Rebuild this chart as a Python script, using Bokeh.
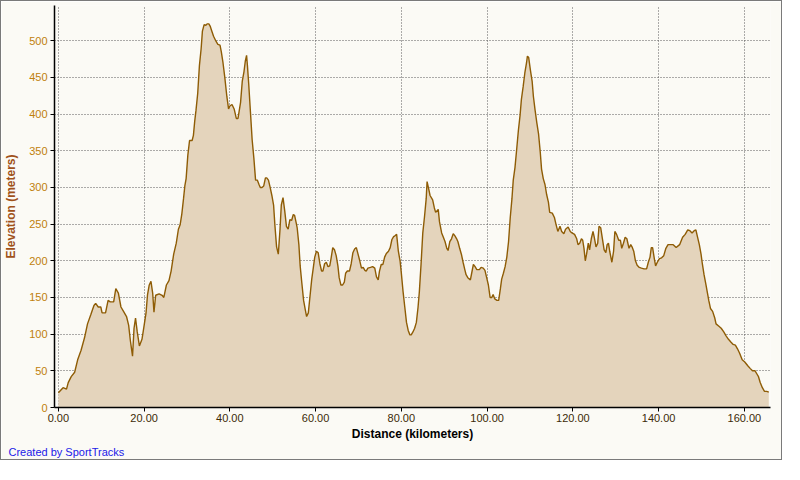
from bokeh.plotting import figure
from bokeh.models import Range1d, FixedTicker, NumeralTickFormatter, Title
from bokeh.embed import file_html
from bokeh.resources import INLINE

distance_km = [
    0.0, 1.1, 1.9, 2.3, 3.0, 3.8, 4.5, 5.3, 6.1, 6.8, 7.6, 8.3, 8.7, 9.3, 9.9, 10.2, 11.0, 11.6, 12.1, 12.9,
    13.4, 14.0, 14.6, 15.2, 15.9, 16.4, 16.8, 17.3, 17.65, 18.0, 18.4, 18.9, 19.5, 19.9, 20.45, 20.8, 21.2, 21.6, 22.0, 22.3,
    22.7, 23.5, 24.2, 24.6, 25.2, 25.8, 26.3, 26.9, 27.5, 28.0, 28.4, 28.8, 29.2, 29.5, 29.8, 30.2, 30.6, 31.2, 31.5, 31.8,
    32.1, 32.5, 32.9, 33.3, 33.6, 34.0, 34.4, 34.7, 35.1, 35.4, 35.8, 36.2, 36.7, 37.2, 37.7, 38.0, 38.4, 38.8, 39.3, 39.7,
    40.0, 40.5, 41.0, 41.5, 41.9, 42.5, 42.9, 43.3, 43.6, 43.9, 44.1, 44.4, 44.8, 45.2, 45.6, 46.0, 46.4, 46.8, 47.1, 47.5,
    47.9, 48.3, 48.6, 49.0, 49.4, 49.8, 50.2, 50.5, 50.9, 51.3, 51.7, 52.0, 52.4, 52.8, 53.2, 53.6, 54.0, 54.4, 54.8, 55.1,
    55.5, 55.7, 56.1, 56.4, 56.8, 57.2, 57.6, 57.9, 58.3, 58.7, 59.1, 59.5, 59.8, 60.2, 60.6, 61.0, 61.4, 61.7, 62.1, 62.5,
    62.9, 63.3, 63.6, 64.0, 64.4, 64.8, 65.2, 65.5, 65.9, 66.3, 66.7, 67.0, 67.4, 67.9, 68.3, 68.7, 69.1, 69.5, 69.9, 70.3,
    70.7, 71.1, 71.5, 71.8, 72.2, 72.8, 73.3, 73.8, 74.2, 74.6, 74.9, 75.3, 75.7, 76.1, 76.5, 77.0, 77.4, 77.8, 78.2, 78.5,
    78.9, 79.3, 79.7, 80.0, 80.4, 80.8, 81.2, 81.6, 82.0, 82.3, 82.7, 83.1, 83.5, 83.9, 84.2, 84.6, 85.0, 85.4, 85.8, 86.0,
    86.3, 86.7, 87.3, 87.7, 88.0, 88.6, 88.9, 89.4, 89.8, 90.2, 90.6, 90.9, 91.3, 91.7, 92.1, 92.5, 92.9, 93.2, 93.6, 94.0,
    94.4, 94.8, 95.1, 95.5, 96.1, 96.4, 96.8, 97.2, 97.6, 98.2, 98.6, 99.1, 99.5, 99.9, 100.3, 100.7, 101.1, 101.4, 101.8, 102.3,
    102.7, 103.1, 103.4, 103.8, 104.2, 104.6, 105.0, 105.4, 105.8, 106.1, 106.5, 106.9, 107.3, 107.7, 108.0, 108.4, 108.8, 109.2, 109.4, 109.7,
    110.1, 110.5, 110.8, 111.2, 111.6, 112.0, 112.4, 112.7, 113.1, 113.5, 113.9, 114.3, 114.6, 115.2, 115.7, 116.1, 116.5, 117.0, 117.4, 117.9,
    118.3, 118.9, 119.4, 119.8, 120.4, 120.9, 121.2, 121.6, 122.0, 122.3, 122.6, 122.9, 123.2, 123.6, 123.9, 124.3, 124.7, 125.0, 125.4, 125.8,
    126.1, 126.5, 126.9, 127.3, 127.7, 128.0, 128.3, 128.6, 129.1, 129.5, 129.8, 130.2, 130.7, 131.1, 131.4, 131.8, 132.2, 132.6, 133.1, 133.5,
    133.8, 134.2, 134.6, 135.0, 135.5, 136.0, 136.6, 137.2, 137.6, 138.0, 138.3, 138.6, 139.0, 139.3, 139.7, 140.2, 140.7, 141.2, 141.7, 142.2,
    142.7, 143.4, 144.1, 144.9, 145.6, 146.2, 146.8, 147.3, 147.8, 148.3, 148.7, 149.1, 149.5, 149.9, 150.2, 150.6, 151.0, 151.4, 151.7, 152.1,
    152.6, 153.1, 153.4, 154.0, 154.6, 155.2, 155.7, 156.3, 156.9, 157.4, 157.9, 158.4, 158.9, 159.5, 160.1, 160.8, 161.4, 161.9, 162.5, 162.9,
    163.3, 163.7, 164.2, 164.7, 165.2, 165.7,
]

elevation_m = [
    20, 27, 25, 34, 42, 48, 65, 78, 95, 114, 127, 139, 142, 137, 137, 129, 129, 146, 144, 144,
    162, 156, 137, 131, 124, 112, 91, 70, 108, 122, 103, 84, 93, 108, 129, 154, 167, 172, 156, 130,
    153, 155, 153, 150, 167, 173, 186, 209, 224, 243, 249, 264, 285, 302, 312, 344, 364, 364, 371, 390,
    405, 428, 466, 489, 513, 522, 521, 523, 523, 520, 513, 506, 500, 495, 494, 485, 470, 451, 424, 407,
    411, 413, 407, 394, 394, 416, 445, 458, 472, 480, 466, 441, 403, 365, 340, 310, 310, 304, 300, 300,
    302, 313, 313, 310, 300, 289, 276, 249, 219, 209, 243, 276, 286, 268, 247, 243, 256, 255, 263, 262,
    251, 245, 222, 193, 169, 146, 133, 124, 129, 152, 175, 192, 205, 213, 211, 196, 186, 186, 196, 198,
    192, 193, 203, 218, 215, 207, 193, 177, 167, 167, 171, 183, 186, 186, 196, 211, 216, 218, 209, 200,
    190, 191, 187, 186, 190, 191, 192, 190, 178, 174, 186, 195, 195, 205, 210, 213, 218, 229, 233, 234,
    236, 213, 200, 183, 158, 137, 116, 105, 99, 99, 103, 108, 116, 137, 158, 196, 238, 260, 285, 308,
    300, 289, 283, 272, 266, 270, 253, 238, 232, 226, 217, 214, 226, 230, 237, 234, 230, 226, 217, 209,
    198, 188, 181, 177, 174, 183, 195, 192, 188, 188, 191, 190, 187, 177, 167, 150, 150, 154, 148, 146,
    146, 162, 175, 183, 192, 205, 226, 259, 285, 310, 327, 352, 378, 399, 420, 437, 456, 470, 479, 477,
    460, 445, 424, 405, 388, 373, 348, 325, 312, 304, 290, 280, 266, 265, 259, 249, 240, 247, 240, 237,
    243, 246, 240, 238, 236, 230, 222, 224, 230, 228, 217, 200, 209, 224, 215, 230, 240, 232, 219, 224,
    247, 245, 230, 215, 211, 222, 224, 213, 198, 213, 240, 236, 228, 228, 217, 224, 232, 230, 217, 222,
    219, 213, 200, 194, 191, 190, 189, 189, 198, 205, 218, 218, 203, 193, 198, 203, 204, 207, 217, 222,
    222, 222, 218, 222, 232, 236, 242, 241, 238, 241, 242, 232, 222, 209, 196, 181, 169, 156, 146, 135,
    131, 122, 114, 111, 108, 103, 98, 93, 89, 86, 85, 80, 74, 65, 62, 57, 53, 50, 50, 46,
    42, 34, 27, 22, 22, 21,
]

x_ticks = [0, 20, 40, 60, 80, 100, 120, 140, 160]
y_ticks = [0, 50, 100, 150, 200, 250, 300, 350, 400, 450, 500]

BG = "#FBFAF5"
FONT = "Liberation Sans"

p = figure(
    width=782, height=460, output_backend="svg", toolbar_location=None,
    x_range=Range1d(-0.9, 166.1), y_range=Range1d(0, 548),
    min_border_left=48, min_border_right=13, min_border_top=4, min_border_bottom=54,
)
p.styles = {"border": "1px solid #7a7a7a"}
p.background_fill_color = BG
p.border_fill_color = BG
p.outline_line_color = None

p.varea(x=distance_km, y1=0, y2=elevation_m, fill_color="#E4D4BC")
p.line(x=distance_km, y=elevation_m, line_color="#8E5C05", line_width=1.4)

for g in (p.xgrid, p.ygrid):
    g.grid_line_color = "#5A5A5A"
    g.grid_line_dash = "1 2"
    g.grid_line_width = 1

p.xaxis.ticker = FixedTicker(ticks=x_ticks)
p.yaxis.ticker = FixedTicker(ticks=y_ticks)
p.xaxis.formatter = NumeralTickFormatter(format="0.00")
p.yaxis.formatter = NumeralTickFormatter(format="0")

for ax in (p.xaxis, p.yaxis):
    ax.axis_line_color = "black"
    ax.axis_line_width = 1.5
    ax.major_tick_line_color = "black"
    ax.major_tick_out = 4
    ax.major_tick_in = 0
    ax.minor_tick_line_color = None
    ax.major_label_text_font = FONT
    ax.major_label_text_font_size = "11px"
    ax.axis_label_text_font = FONT
    ax.axis_label_text_font_size = "12px"
    ax.axis_label_text_font_style = "bold"

p.xaxis.axis_label = "Distance (kilometers)"
p.xaxis.axis_label_text_color = "black"
p.xaxis.major_label_text_color = "#3C2A08"
p.xaxis.major_label_standoff = 2
p.xaxis.axis_label_standoff = 2

p.yaxis.axis_label = "Elevation (meters)"
p.yaxis.axis_label_text_color = "#A0521A"
p.yaxis.major_label_text_color = "#C0800C"
p.yaxis.major_label_standoff = 3
p.yaxis.axis_label_standoff = 8

credit = Title(
    text="Created by SportTracks", align="left", offset=-46,
    text_color="#2020E8", text_font=FONT, text_font_size="11px",
    text_font_style="normal", standoff=0,
)
p.add_layout(credit, "below")

open("out.html", "w").write(file_html(p, INLINE))
